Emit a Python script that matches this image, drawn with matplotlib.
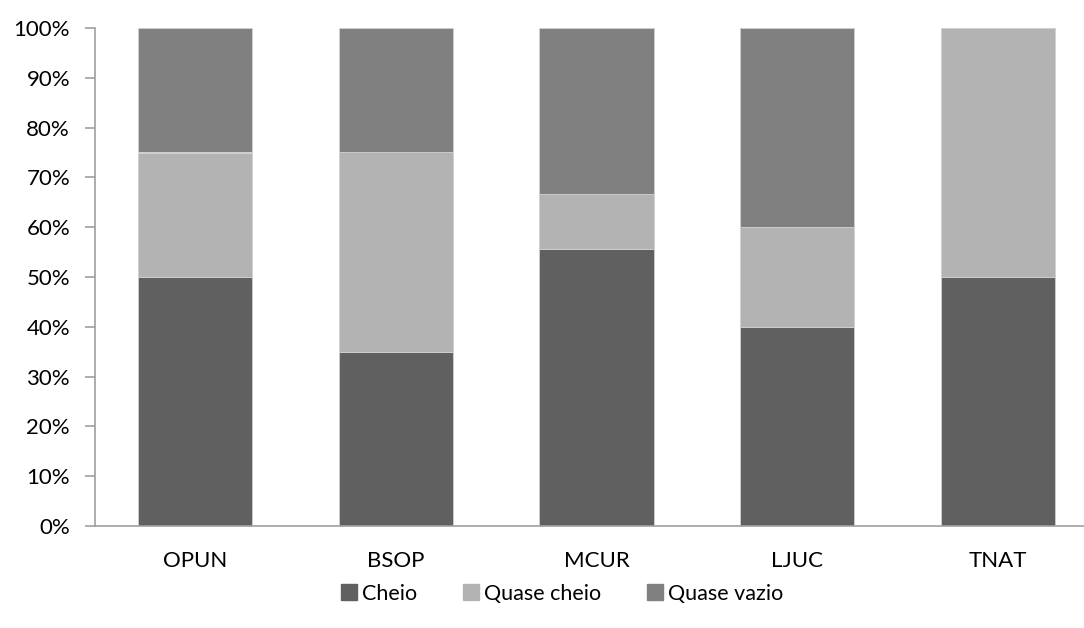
import numpy as np
import matplotlib.pyplot as plt
from matplotlib.ticker import PercentFormatter

# dados (percentagens)
categorias = ["OPUN", "BSOP", "MCUR", "LJUC", "TNAT"]
cheio = [50.0, 35.0, 55.6, 40.0, 50.0]
quase_cheio = [25.0, 40.0, 11.1, 20.0, 50.0]
quase_vazio = [25.0, 25.0, 33.3, 40.0, 0.0]

series = [("Cheio", cheio, "#606060"),
          ("Quase cheio", quase_cheio, "#b3b3b3"),
          ("Quase vazio", quase_vazio, "#808080")]

plt.rcParams["font.family"] = ["Lato", "DejaVu Sans"]
plt.rcParams["font.size"] = 16

fig = plt.figure(figsize=(10.84, 6.28), dpi=100)
ax = fig.add_axes([95 / 1084, 102 / 628, 1 - 95 / 1084, 498 / 628])

x = np.arange(len(categorias))
base = np.zeros(len(categorias))
for nome, vals, cor in series:
    ax.bar(x, vals, bottom=base, width=0.57, color=cor, label=nome,
           edgecolor="#d0d0d0", linewidth=0.6)
    base += np.array(vals)

ax.set_ylim(0, 100)
ax.set_xlim(-0.5, 4.43)
ax.set_yticks(np.arange(0, 101, 10))
ax.yaxis.set_major_formatter(PercentFormatter(decimals=0))
ax.set_xticks(x)
ax.set_xticklabels(categorias)

for s in ["top", "right"]:
    ax.spines[s].set_visible(False)
for s in ["left", "bottom"]:
    ax.spines[s].set_color("#a0a0a0")
    ax.spines[s].set_linewidth(1.2)
ax.tick_params(axis="y", length=7, color="#a0a0a0", width=1.2, pad=11)
ax.tick_params(axis="x", length=0, pad=18)

handles = [plt.Line2D([], [], marker="s", linestyle="", markersize=11, color=c)
           for _, _, c in series]
fig.legend(handles, [n for n, _, _ in series], loc="center",
           bbox_to_anchor=(562 / 1084, 1 - 594 / 628), ncol=3, frameon=False,
           handlelength=0.8, handletextpad=0.2, columnspacing=2.1, fontsize=15.5)

plt.savefig("out.png", dpi=100)
